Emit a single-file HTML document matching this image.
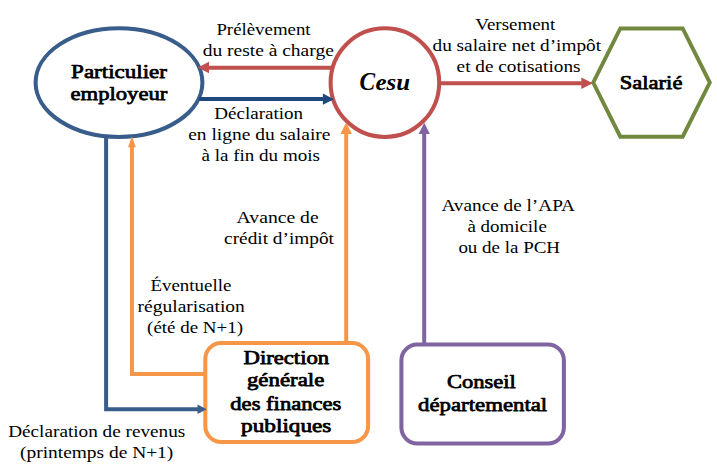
<!DOCTYPE html>
<html lang="fr">
<head>
<meta charset="utf-8">
<title>Cesu – circuit de l’avance immédiate</title>
<style>
html,body{margin:0;padding:0;background:#fff;}
body{width:717px;height:468px;overflow:hidden;}
svg{display:block;}
text{font-family:"Liberation Serif","DejaVu Serif",serif;fill:#000;}
.r{font-size:16.5px;}
.b{font-size:19.6px;stroke:#000;stroke-width:0.75px;stroke-linejoin:round;}
.c{font-size:24px;font-weight:bold;font-style:italic;}
.cc{font-size:26px;}
.b2{font-size:18.4px;stroke:#000;stroke-width:0.75px;stroke-linejoin:round;}
</style>
</head>
<body>
<svg width="717" height="468" viewBox="0 0 717 468">
<rect width="717" height="468" fill="#fff"/>

<!-- shapes -->
<g fill="none" stroke-width="4.05">
  <ellipse cx="119" cy="82.6" rx="83.4" ry="54.4" stroke="#385D8A"/>
  <circle cx="384.9" cy="82.65" r="54.3" stroke="#C0504D"/>
  <polygon points="593.2,82.6 620.3,28.5 682.7,28.5 709.8,82.6 682.7,136.7 620.3,136.7" stroke="#71893F" stroke-width="3.9" stroke-linejoin="miter"/>
  <rect x="205.3" y="342.9" width="162.8" height="99.2" rx="16" ry="16" stroke="#F79646"/>
  <rect x="401.4" y="344.4" width="162.5" height="99.1" rx="16" ry="16" stroke="#8064A2"/>
</g>
<!-- connectors -->
<g fill="none" stroke-linejoin="miter" stroke-width="4.0">
  <!-- blue: particulier -> DGFiP -->
  <path d="M106.1 137 V409.2 H198" stroke="#385D8A"/>
  <path d="M206.7 409.2 L197.5 404.5 V413.9 Z" fill="#385D8A"/>
  <!-- orange: DGFiP -> particulier -->
  <path d="M205 373.9 H131.95 V146" stroke="#F79646"/>
  <path d="M131.9 136.2 L128 147.2 H135.8 Z" fill="#F79646"/>
  <!-- orange: DGFiP -> Cesu -->
  <path d="M346.2 342 V134" stroke="#F79646"/>
  <path d="M346.15 122.8 L340.3 134 H352 Z" fill="#F79646"/>
  <!-- purple: Conseil -> Cesu -->
  <path d="M424.2 344 V134" stroke="#8064A2"/>
  <path d="M424.25 122.7 L418.6 134 H429.9 Z" fill="#8064A2"/>
  <!-- blue: particulier -> Cesu -->
  <path d="M199 99 H324" stroke="#1F497D"/>
  <path d="M333.9 99.2 L322.9 93.6 V104.8 Z" fill="#1F497D"/>
  <!-- red: Cesu -> particulier -->
  <path d="M331 67.65 H208" stroke="#C0504D"/>
  <path d="M197.7 67.55 L209 61.85 V73.2 Z" fill="#C0504D"/>
  <!-- red: Cesu -> salarié -->
  <path d="M440 83.2 H582" stroke="#C0504D"/>
  <path d="M592.8 83.2 L581.3 77.4 V89.1 Z" fill="#C0504D"/>
</g>
<g>
  <text class="b" x="71.1" y="77.8" textLength="95.8" lengthAdjust="spacingAndGlyphs">Particulier</text>
  <text class="b" x="70.5" y="99.5" textLength="96.8" lengthAdjust="spacingAndGlyphs">employeur</text>
  <text class="r" x="216.4" y="34.7" textLength="94.2" lengthAdjust="spacingAndGlyphs">Prélèvement</text>
  <text class="r" x="202.7" y="55.7" textLength="131.1" lengthAdjust="spacingAndGlyphs">du reste à charge</text>
  <text class="r" x="214.3" y="118.8" textLength="88.8" lengthAdjust="spacingAndGlyphs">Déclaration</text>
  <text class="r" x="188.2" y="139.7" textLength="142.3" lengthAdjust="spacingAndGlyphs">en ligne du salaire</text>
  <text class="r" x="201.5" y="160.8" textLength="118.4" lengthAdjust="spacingAndGlyphs">à la fin du mois</text>
  <text class="c" y="89.9"><tspan class="cc" x="359.6" textLength="15.6" lengthAdjust="spacingAndGlyphs">C</tspan><tspan x="375.4" textLength="34.6" lengthAdjust="spacingAndGlyphs">esu</tspan></text>
  <text class="r" x="475.3" y="30.1" textLength="80.1" lengthAdjust="spacingAndGlyphs">Versement</text>
  <text class="r" x="432.5" y="51" textLength="168.6" lengthAdjust="spacingAndGlyphs">du salaire net d’impôt</text>
  <text class="r" x="456.6" y="71.8" textLength="123.9" lengthAdjust="spacingAndGlyphs">et de cotisations</text>
  <text class="b" x="619.8" y="88.9" textLength="62.6" lengthAdjust="spacingAndGlyphs">Salarié</text>
  <text class="r" x="236.6" y="223.1" textLength="82.1" lengthAdjust="spacingAndGlyphs">Avance de</text>
  <text class="r" x="224.1" y="244" textLength="109.9" lengthAdjust="spacingAndGlyphs">crédit d’impôt</text>
  <text class="r" x="441.4" y="210.9" textLength="133.6" lengthAdjust="spacingAndGlyphs">Avance de l’APA</text>
  <text class="r" x="467.4" y="232" textLength="79.4" lengthAdjust="spacingAndGlyphs">à domicile</text>
  <text class="r" x="458.4" y="252.9" textLength="101.7" lengthAdjust="spacingAndGlyphs">ou de la PCH</text>
  <text class="r" x="150.4" y="290.9" textLength="81.0" lengthAdjust="spacingAndGlyphs">Éventuelle</text>
  <text class="r" x="137.6" y="311.8" textLength="107.2" lengthAdjust="spacingAndGlyphs">régularisation</text>
  <text class="r" x="147.1" y="332.9" textLength="95.9" lengthAdjust="spacingAndGlyphs">(été de N+1)</text>
  <text class="b2" x="243.6" y="363.7" textLength="85.5" lengthAdjust="spacingAndGlyphs">Direction</text>
  <text class="b2" x="246.9" y="386.3" textLength="77.4" lengthAdjust="spacingAndGlyphs">générale</text>
  <text class="b2" x="230.3" y="409.9" textLength="111.1" lengthAdjust="spacingAndGlyphs">des finances</text>
  <text class="b2" x="241.1" y="432.4" textLength="90.3" lengthAdjust="spacingAndGlyphs">publiques</text>
  <text class="b" x="446.9" y="388.2" textLength="68.9" lengthAdjust="spacingAndGlyphs">Conseil</text>
  <text class="b" x="418.1" y="410.8" textLength="129.1" lengthAdjust="spacingAndGlyphs">départemental</text>
  <text class="r" x="8.2" y="436.9" textLength="177.1" lengthAdjust="spacingAndGlyphs">Déclaration de revenus</text>
  <text class="r" x="20" y="457.7" textLength="153.3" lengthAdjust="spacingAndGlyphs">(printemps de N+1)</text>
</g>
</svg>
</body>
</html>
